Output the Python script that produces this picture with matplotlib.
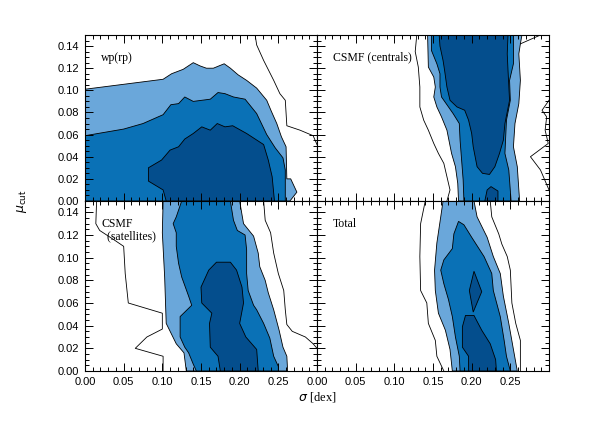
import numpy as np
import matplotlib.pyplot as plt
from matplotlib.ticker import MultipleLocator

# colours of the three confidence levels (outermost level is only a line)
c_light = '#6aa7da'
c_mid = '#0a71b6'
c_dark = '#044e8d'

# ---- panel 1: wp(rp) ----
wp_outer = [[(0.220, 0.150), (0.222, 0.141), (0.231, 0.127), (0.244, 0.109), (0.252, 0.097),
             (0.259, 0.091), (0.261, 0.068), (0.278, 0.064), (0.295, 0.059), (0.300, 0.051)]]
wp_light = [[(0.0, 0.0), (0.0, 0.101), (0.101, 0.110), (0.112, 0.115), (0.127, 0.119), (0.140, 0.125),
             (0.149, 0.122), (0.157, 0.120), (0.166, 0.120), (0.180, 0.124), (0.188, 0.120),
             (0.198, 0.114), (0.209, 0.109), (0.222, 0.102), (0.235, 0.091), (0.241, 0.081),
             (0.248, 0.070), (0.254, 0.058), (0.260, 0.049), (0.261, 0.020), (0.266, 0.020),
             (0.274, 0.008), (0.265, 0.0)]]
wp_mid = [[(0.0, 0.0), (0.0, 0.059), (0.050, 0.065), (0.075, 0.070), (0.101, 0.078), (0.111, 0.087),
           (0.121, 0.088), (0.129, 0.094), (0.140, 0.090), (0.162, 0.092), (0.172, 0.098),
           (0.181, 0.097), (0.192, 0.094), (0.207, 0.092), (0.222, 0.079), (0.235, 0.060),
           (0.246, 0.048), (0.256, 0.039), (0.259, 0.028), (0.259, 0.0)]]
wp_dark = [[(0.105, 0.0), (0.101, 0.010), (0.082, 0.018), (0.082, 0.030), (0.099, 0.037),
            (0.110, 0.046), (0.121, 0.049), (0.129, 0.056), (0.140, 0.061), (0.151, 0.067),
            (0.162, 0.064), (0.171, 0.070), (0.181, 0.067), (0.191, 0.068), (0.209, 0.061),
            (0.231, 0.051), (0.237, 0.037), (0.242, 0.022), (0.245, 0.0)]]

# ---- panel 2: CSMF (centrals) ----
cen_outer = [[(0.129, 0.150), (0.127, 0.135), (0.131, 0.121), (0.133, 0.103), (0.133, 0.085),
              (0.138, 0.073), (0.144, 0.064), (0.151, 0.052), (0.157, 0.043), (0.164, 0.034),
              (0.168, 0.022), (0.172, 0.010), (0.168, 0.0)],
             [(0.263, 0.142), (0.289, 0.150)],
             [(0.300, 0.091), (0.291, 0.082), (0.297, 0.076), (0.295, 0.064), (0.299, 0.052),
              (0.276, 0.040), (0.289, 0.028), (0.300, 0.010)],
             [(0.2995, 0.125), (0.2995, 0.118)]]
cen_light = [[(0.143, 0.150), (0.144, 0.121), (0.151, 0.112), (0.153, 0.103), (0.151, 0.094),
              (0.155, 0.085), (0.161, 0.076), (0.168, 0.064), (0.174, 0.043), (0.179, 0.031),
              (0.182, 0.016), (0.183, 0.0), (0.262, 0.0), (0.259, 0.031), (0.254, 0.049),
              (0.256, 0.070), (0.261, 0.088), (0.263, 0.109), (0.261, 0.133), (0.263, 0.142),
              (0.265, 0.150)]]
cen_mid = [[(0.148, 0.150), (0.148, 0.136), (0.155, 0.124), (0.159, 0.115), (0.159, 0.103),
            (0.161, 0.094), (0.168, 0.087), (0.176, 0.079), (0.184, 0.070), (0.185, 0.055),
            (0.187, 0.037), (0.189, 0.019), (0.190, 0.0), (0.251, 0.0), (0.248, 0.028),
            (0.243, 0.043), (0.245, 0.073), (0.250, 0.091), (0.249, 0.109), (0.254, 0.124),
            (0.254, 0.150)]]
cen_dark = [[(0.158, 0.150), (0.159, 0.140), (0.163, 0.127), (0.165, 0.118), (0.168, 0.103),
             (0.172, 0.091), (0.181, 0.085), (0.191, 0.082), (0.196, 0.073), (0.200, 0.061),
             (0.202, 0.049), (0.207, 0.031), (0.214, 0.025), (0.223, 0.024), (0.230, 0.031),
             (0.236, 0.043), (0.241, 0.055), (0.243, 0.070), (0.249, 0.091), (0.247, 0.118),
             (0.246, 0.133), (0.247, 0.150)],
            [(0.217, 0.0), (0.220, 0.010), (0.225, 0.013), (0.234, 0.009), (0.234, 0.0)]]

# ---- panel 3: CSMF (satellites) ----
sat_outer = [[(0.015, 0.150), (0.014, 0.130), (0.019, 0.124), (0.037, 0.116), (0.050, 0.110),
              (0.052, 0.086), (0.056, 0.060), (0.100, 0.051), (0.100, 0.037), (0.080, 0.030),
              (0.065, 0.020), (0.101, 0.013), (0.101, 0.0)],
             [(0.231, 0.150), (0.233, 0.133), (0.240, 0.122), (0.244, 0.104), (0.250, 0.086),
              (0.257, 0.071), (0.259, 0.054), (0.261, 0.041), (0.268, 0.035), (0.285, 0.030),
              (0.295, 0.024), (0.300, 0.020)]]
sat_light = [[(0.101, 0.150), (0.100, 0.122), (0.103, 0.083), (0.105, 0.042), (0.118, 0.024),
              (0.128, 0.016), (0.131, 0.0), (0.262, 0.0), (0.261, 0.013), (0.256, 0.021),
              (0.251, 0.036), (0.244, 0.054), (0.237, 0.069), (0.233, 0.080), (0.226, 0.092),
              (0.224, 0.104), (0.218, 0.119), (0.205, 0.130), (0.200, 0.150)]]
sat_mid = [[(0.125, 0.150), (0.118, 0.136), (0.114, 0.130), (0.118, 0.122), (0.118, 0.110),
            (0.121, 0.095), (0.125, 0.083), (0.134, 0.066), (0.138, 0.058), (0.123, 0.048),
            (0.123, 0.030), (0.129, 0.021), (0.134, 0.016), (0.140, 0.006), (0.144, 0.0),
            (0.250, 0.0), (0.250, 0.004), (0.244, 0.013), (0.239, 0.029), (0.231, 0.042),
            (0.222, 0.054), (0.218, 0.058), (0.211, 0.071), (0.209, 0.086), (0.209, 0.107),
            (0.207, 0.120), (0.197, 0.124), (0.192, 0.133), (0.188, 0.150)]]
sat_dark = [[(0.175, 0.0), (0.172, 0.013), (0.162, 0.021), (0.161, 0.042), (0.164, 0.051),
             (0.151, 0.060), (0.150, 0.074), (0.160, 0.089), (0.170, 0.096), (0.188, 0.096),
             (0.196, 0.089), (0.203, 0.074), (0.205, 0.060), (0.200, 0.042), (0.208, 0.030),
             (0.222, 0.019), (0.224, 0.0)]]

# ---- panel 4: Total ----
tot_outer = [[(0.140, 0.150), (0.134, 0.130), (0.133, 0.101), (0.134, 0.071), (0.142, 0.060),
              (0.144, 0.042), (0.153, 0.027), (0.155, 0.013), (0.164, 0.0)],
             [(0.224, 0.150), (0.226, 0.136), (0.235, 0.121), (0.239, 0.112), (0.246, 0.101),
              (0.250, 0.089), (0.252, 0.060), (0.257, 0.042), (0.263, 0.027), (0.263, 0.0)]]
tot_light = [[(0.163, 0.150), (0.160, 0.136), (0.155, 0.113), (0.152, 0.089), (0.153, 0.071),
              (0.157, 0.051), (0.166, 0.036), (0.172, 0.019), (0.175, 0.0), (0.259, 0.0),
              (0.254, 0.019), (0.248, 0.042), (0.241, 0.066), (0.237, 0.086), (0.228, 0.101),
              (0.220, 0.118), (0.207, 0.136), (0.203, 0.150)]]
tot_mid = [[(0.183, 0.132), (0.177, 0.121), (0.175, 0.108), (0.164, 0.098), (0.160, 0.089),
            (0.164, 0.077), (0.170, 0.063), (0.175, 0.048), (0.179, 0.030), (0.184, 0.013),
            (0.185, 0.0), (0.250, 0.0), (0.245, 0.013), (0.242, 0.027), (0.237, 0.048),
            (0.228, 0.071), (0.226, 0.086), (0.216, 0.101), (0.200, 0.118), (0.190, 0.129)]]
tot_dark = [[(0.203, 0.088), (0.197, 0.071), (0.202, 0.052), (0.213, 0.070)],
            [(0.192, 0.049), (0.203, 0.049), (0.213, 0.036), (0.224, 0.024), (0.231, 0.010),
             (0.232, 0.0), (0.196, 0.0), (0.196, 0.013), (0.188, 0.021), (0.188, 0.039)]]

panels = [
    ('wp(rp)', wp_outer, wp_light, wp_mid, wp_dark),
    ('CSMF (centrals)', cen_outer, cen_light, cen_mid, cen_dark),
    ('CSMF\n  (satellites)', sat_outer, sat_light, sat_mid, sat_dark),
    ('Total', tot_outer, tot_light, tot_mid, tot_dark),
]

x_ticks = [0.00, 0.05, 0.10, 0.15, 0.20, 0.25]
y_ticks = [0.00, 0.02, 0.04, 0.06, 0.08, 0.10, 0.12, 0.14]

W, H = 598, 441
fig = plt.figure(figsize=(W / 100, H / 100), dpi=100)

# panel edges in pixels: x 85 / 317 / 549, y 35 / 201 / 371
xl, xm, xr = 85 / W, 317 / W, 549 / W
yb, ym, yt = 1 - 371 / H, 1 - 201 / H, 1 - 35 / H
boxes = [(xl, ym, xm - xl, yt - ym), (xm, ym, xr - xm, yt - ym),
         (xl, yb, xm - xl, ym - yb), (xm, yb, xr - xm, ym - yb)]

tick_font = {'family': 'Liberation Sans', 'size': 8}

for k, (name, outer, light, mid, dark) in enumerate(panels):
    ax = fig.add_axes(boxes[k])
    for level, col in ((light, c_light), (mid, c_mid), (dark, c_dark)):
        for poly in level:
            p = np.array(poly)
            ax.fill(p[:, 0], p[:, 1], facecolor=col, edgecolor='black', linewidth=0.6)
    for line in outer:
        p = np.array(line)
        ax.plot(p[:, 0], p[:, 1], color='black', linewidth=0.6)

    ax.set_xlim(0, 0.3)
    ax.set_ylim(0, 0.15)
    ax.xaxis.set_major_locator(MultipleLocator(0.05))
    ax.xaxis.set_minor_locator(MultipleLocator(0.01))
    ax.yaxis.set_major_locator(MultipleLocator(0.02))
    ax.yaxis.set_minor_locator(MultipleLocator(0.005))
    ax.tick_params(which='both', direction='in', top=True, right=True, width=0.7)
    ax.tick_params(which='major', length=6)
    ax.tick_params(which='minor', length=3)
    for s in ax.spines.values():
        s.set_linewidth(0.8)
        s.set_zorder(5)

    if k >= 2:
        ax.set_xticks(x_ticks)
        ax.set_xticklabels(['%.2f' % v for v in x_ticks], fontdict=tick_font)
    else:
        ax.set_xticklabels([])
    if k % 2 == 0:
        ax.set_yticks(y_ticks)
        ax.set_yticklabels(['%.2f' % v for v in y_ticks], fontdict=tick_font)
    else:
        ax.set_yticklabels([])
    ax.tick_params(pad=4)

    ax.text(0.07, 0.90, name, transform=ax.transAxes, ha='left', va='top',
            family='Liberation Serif', fontsize=8.5, linespacing=1.0)

fig.text(0.53, 1 - 397 / H, r'$\sigma$ [dex]', ha='center', va='center',
         family='Liberation Serif', fontsize=9)
fig.text(22 / W, ym, r'$\mu_{\rm cut}$', ha='center', va='center', rotation=90,
         family='Liberation Serif', fontsize=9)

fig.savefig('out.png', dpi=100)
